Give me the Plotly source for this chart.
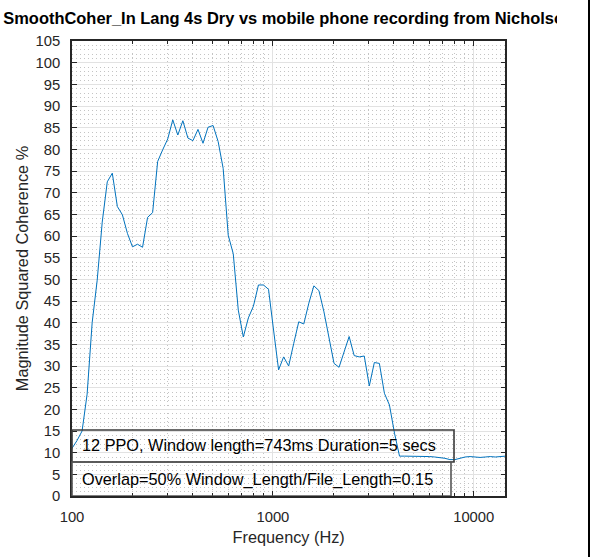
import numpy as np
import plotly.graph_objects as go

# Smoothed magnitude-squared coherence, 12 points per octave starting at 100 Hz
PPO = 12
F_START = 100.0
coherence_pct = [
    11.0, 12.8, 15.0, 23.5, 40.0, 49.8, 63.2, 72.5, 74.5, 66.8,
    64.9, 60.6, 57.5, 58.1, 57.4, 64.3, 65.4, 77.2, 79.9, 82.4,
    86.8, 83.3, 86.6, 82.6, 82.0, 84.6, 81.4, 85.1, 85.5, 81.8,
    75.6, 60.2, 55.9, 42.9, 36.7, 41.1, 43.8, 48.7, 48.7, 47.7,
    38.3, 29.1, 32.1, 30.0, 35.2, 40.2, 39.7, 44.5, 48.5, 47.4,
    42.5, 36.4, 30.6, 29.7, 33.3, 36.8, 32.4, 32.1, 32.3, 25.4,
    30.8, 30.6, 23.7, 21.0, 14.5, 9.2, 9.2, 9.2, 9.1, 9.2,
    9.2, 9.1, 9.0, 8.9, 8.7, 8.4, 8.4, 8.7, 9.0, 9.1,
    9.0, 8.9, 9.0, 9.1, 9.0, 9.1, 9.2,
]
freqs = F_START * 2.0 ** (np.arange(len(coherence_pct)) / PPO)

x_major = [100, 1000, 10000]
x_major_text = ["100", "1000", "10000"]
x_minor = [m * d for d in (100, 1000) for m in range(2, 10)]

title_text = "SmoothCoher_In Lang 4s Dry vs mobile phone recording from Nicholson"
info_line1 = "12 PPO, Window length=743ms Duration=5 secs"
info_line2 = "Overlap=50% Window_Length/File_Length=0.15"

W, H = 590, 557
AX_L, AX_R, AX_T, AX_B = 72, 505.35, 41, 496
FONT = "Liberation Sans, Arial, Helvetica, sans-serif"
AXC = "#262626"
MINOR_DASH = "1px,3px"

fig = go.Figure()
fig.add_trace(go.Scatter(
    x=freqs, y=coherence_pct, mode="lines",
    line=dict(color="#0072BD", width=1), showlegend=False,
    hoverinfo="x+y",
))

# Title drawn as clipped text on a hidden helper subplot
clip_w = 557
fig.add_trace(go.Scatter(
    x=[(AX_L + AX_R) / 2], y=[20], mode="text", text=[f"<b>{title_text}</b>"],
    textposition="middle center", cliponaxis=True,
    textfont=dict(family=FONT, size=16.45, color="#000000"),
    xaxis="x2", yaxis="y2", showlegend=False, hoverinfo="skip",
))

fig.update_layout(
    width=W, height=H,
    margin=dict(l=0, r=0, t=0, b=0, pad=0),
    paper_bgcolor="white", plot_bgcolor="white",
    font=dict(family=FONT, color=AXC),
    xaxis=dict(
        type="log", domain=[AX_L / W, AX_R / W],
        range=[np.log10(freqs[0]), np.log10(freqs[-1])],
        tickmode="array", tickvals=x_major, ticktext=x_major_text,
        ticks="inside", ticklen=5, tickwidth=1, tickcolor=AXC,
        showline=True, linecolor=AXC, linewidth=1.5, mirror="allticks",
        showgrid=True, gridcolor="#e2e2e2", gridwidth=1, zeroline=False,
        minor=dict(tickmode="array", tickvals=x_minor, ticks="inside", ticklen=3,
                   tickcolor=AXC, showgrid=True, gridcolor="#c4c4c4",
                   griddash=MINOR_DASH, gridwidth=1),
        tickfont=dict(size=14.8, color=AXC), ticklabelstandoff=6,
        title=dict(text="Frequency (Hz)", font=dict(size=16.3, color=AXC), standoff=8),
        automargin=False, anchor="y",
    ),
    yaxis=dict(
        domain=[(H - AX_B) / H, (H - AX_T) / H], range=[0, 105],
        tickmode="linear", tick0=0, dtick=5,
        ticks="inside", ticklen=5, tickwidth=1, tickcolor=AXC,
        showline=True, linecolor=AXC, linewidth=1.5, mirror="allticks",
        showgrid=True, gridcolor="#e2e2e2", gridwidth=1, zeroline=False,
        minor=dict(dtick=1, ticks="", showgrid=True, gridcolor="#c4c4c4",
                   griddash=MINOR_DASH, gridwidth=1),
        tickfont=dict(size=14.8, color=AXC), ticklabelstandoff=7,
        title=dict(text="Magnitude Squared Coherence %", font=dict(size=16.3, color=AXC),
                   standoff=3),
        automargin=False, anchor="x",
    ),
    xaxis2=dict(domain=[0, clip_w / W], range=[0, clip_w], visible=False,
                fixedrange=True, anchor="y2"),
    yaxis2=dict(domain=[(H - 40) / H, 1], range=[0, 40], visible=False,
                fixedrange=True, anchor="x2"),
)

plot_w = AX_R - AX_L
px_per_unit = (AX_B - AX_T) / 105.0


def y_at(py):
    return (AX_B - py) / px_per_unit


boxes = [
    dict(x1=(454 - AX_L) / plot_w, y0=y_at(462), y1=y_at(430), color="#3c3c3c"),
    dict(x1=(451 - AX_L) / plot_w, y0=0, y1=y_at(462), color="#555555"),
]
for b in boxes:
    fig.add_shape(type="rect", xref="x domain", yref="y",
                  x0=0, x1=b["x1"], y0=b["y0"], y1=b["y1"],
                  line=dict(color=b["color"], width=1.6), fillcolor="rgba(0,0,0,0)",
                  layer="above")

for txt, py in ((info_line1, 445), (info_line2, 479.3)):
    fig.add_annotation(text=txt, xref="x domain", yref="y",
                       x=(80 - AX_L) / plot_w, y=y_at(py),
                       xanchor="left", yanchor="middle", showarrow=False,
                       font=dict(family=FONT, size=16.3, color="#000000"))

# dark frame edge at the right of the window
fig.add_shape(type="rect", xref="paper", yref="paper", x0=588 / W, x1=1, y0=0, y1=1,
              fillcolor="black", line=dict(width=0), layer="above")

fig.write_html("out.html")
